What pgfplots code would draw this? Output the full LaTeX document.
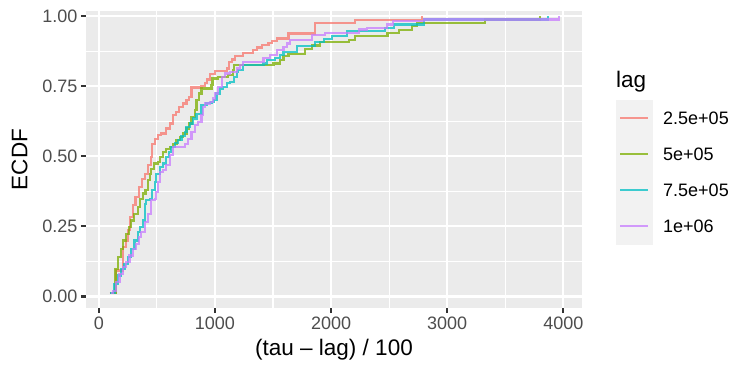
\documentclass[border=0pt]{standalone}
\usepackage{pgfplots}
\pgfplotsset{compat=1.18}
\usepackage{fontspec}
\setmainfont{Liberation Sans}
\definecolor{cA}{HTML}{F8766D}
\definecolor{cB}{HTML}{7CAE00}
\definecolor{cC}{HTML}{00BFC4}
\definecolor{cD}{HTML}{C77CFF}
\definecolor{panelbg}{HTML}{EBEBEB}
\definecolor{keybg}{HTML}{F2F2F2}
\definecolor{tickcol}{HTML}{333333}
\definecolor{ticklab}{HTML}{4D4D4D}
\begin{document}
\begin{tikzpicture}
\useasboundingbox (0bp,0bp) rectangle (735bp,368bp);
\begin{axis}[
  at={(86bp,60bp)}, anchor=south west,
  scale only axis, width=496bp, height=297bp,
  xmin=-110, xmax=4161, ymin=-0.041, ymax=1.018,
  axis background/.style={fill=panelbg},
  axis line style={draw=none},
  xtick={0,1000,2000,3000,4000}, xticklabels={0,1000,2000,3000,4000},
  minor xtick={500,1500,2500,3500},
  ytick={0,0.25,0.5,0.75,1}, yticklabels={0.00,0.25,0.50,0.75,1.00},
  minor ytick={0.125,0.375,0.625,0.875},
  grid=both,
  major grid style={white, line width=2.2bp},
  minor grid style={white, line width=1.1bp},
  tick align=outside, major tick length=5bp, minor tick length=0bp,
  xtick pos=left, ytick pos=left,
  major tick style={tickcol, line width=2.2bp},
  minor tick style={draw=none},
  tick label style={font=\fontsize{18bp}{20bp}\selectfont, text=ticklab},
  xlabel={(tau – lag) / 100},
  ylabel={ECDF},
  label style={font=\fontsize{22.5bp}{24bp}\selectfont, text=black},
  xlabel style={at={(axis description cs:0.5,-0.1414)}, anchor=center},
  ylabel style={at={(axis description cs:-0.134,0.5)}, anchor=center, rotate=0},
  every axis plot/.append style={line width=2.2bp, opacity=0.75, const plot mark left},
]
\addplot[cA] coordinates {
(95,0.012) (150,0.093) (207,0.176) (231,0.2) (251,0.236) (271,0.283) (294,0.325) (317,0.355)
(346,0.39) (375,0.42) (395,0.438) (424,0.468) (447,0.498) (458,0.545) (481,0.563) (510,0.575)
(539,0.581) (582,0.599) (611,0.617) (640,0.646) (663,0.658) (692,0.676) (726,0.688) (755,0.7)
(778,0.712) (798,0.745) (885,0.75) (914,0.76) (934,0.774) (957,0.793) (1000,0.805) (1101,0.813)
(1124,0.837) (1144,0.845) (1173,0.857) (1245,0.867) (1331,0.879) (1360,0.888) (1403,0.896)
(1461,0.905) (1490,0.912) (1533,0.92) (1634,0.938) (1865,0.974) (2204,0.986) (2780,1.0)
};
\addplot[cB] coordinates {
(95,0.012) (144,0.099) (164,0.140) (193,0.170) (207,0.2) (236,0.224) (259,0.248) (280,0.271)
(303,0.295) (337,0.319) (352,0.349) (380,0.367) (403,0.379) (424,0.414) (438,0.438) (452,0.456)
(476,0.474) (510,0.48) (530,0.498) (553,0.515) (576,0.527) (611,0.533) (640,0.545) (669,0.557)
(697,0.569) (726,0.581) (755,0.599) (778,0.617) (798,0.640) (827,0.664) (841,0.7) (865,0.724)
(885,0.742) (971,0.754) (980,0.777) (1029,0.783) (1115,0.789) (1153,0.807) (1164,0.825)
(1504,0.831) (1562,0.843) (1591,0.857) (1634,0.864) (1779,0.883) (1837,0.895) (1908,0.907)
(2152,0.916) (2209,0.928) (2487,0.94) (2582,0.95) (2696,0.964) (2739,0.976) (3327,0.988) (3799,1.0)
};
\addplot[cC] coordinates {
(100,0.012) (135,0.045) (164,0.075) (193,0.099) (222,0.117) (251,0.140) (280,0.170) (308,0.2)
(337,0.230) (352,0.248) (380,0.271) (395,0.331) (409,0.343) (438,0.349) (461,0.379) (481,0.408)
(496,0.438) (524,0.462) (553,0.474) (582,0.498) (605,0.515) (625,0.533) (654,0.548) (683,0.557)
(712,0.571) (741,0.587) (755,0.605) (784,0.617) (813,0.635) (841,0.652) (885,0.682) (928,0.690)
(971,0.694) (991,0.7) (1014,0.724) (1043,0.742) (1072,0.748) (1101,0.76) (1130,0.765)
(1164,0.783) (1187,0.801) (1202,0.807) (1245,0.825) (1418,0.831) (1447,0.843) (1519,0.849)
(1562,0.861) (1591,0.873) (1706,0.893) (1865,0.907) (1937,0.919) (2009,0.928) (2138,0.946)
(2467,0.958) (2539,0.97) (2797,0.988) (3871,1.0)
};
\addplot[cD] coordinates {
(105,0.012) (121,0.021) (150,0.051) (179,0.081) (207,0.105) (236,0.123) (265,0.146) (294,0.170)
(323,0.188) (346,0.212) (366,0.230) (395,0.265) (424,0.295) (452,0.343) (481,0.349) (496,0.373)
(510,0.408) (524,0.444) (553,0.45) (582,0.468) (611,0.504) (640,0.533) (741,0.545) (769,0.563)
(798,0.587) (827,0.611) (856,0.623) (885,0.646) (899,0.676) (914,0.688) (957,0.694) (986,0.706)
(1000,0.724) (1029,0.748) (1058,0.783) (1086,0.795) (1130,0.801) (1187,0.813) (1216,0.825)
(1245,0.837) (1418,0.849) (1476,0.861) (1533,0.879) (1591,0.890) (1620,0.902) (1648,0.914)
(1837,0.931) (1951,0.94) (2238,0.952) (2310,0.958) (2481,0.97) (2533,0.982) (2797,0.988) (3966,1.0)
};
\end{axis}
% legend
\node[anchor=west, inner sep=0pt, font=\fontsize{22.5bp}{24bp}\selectfont] at (616bp,286bp) {lag};
\fill[keybg] (616bp,123bp) rectangle (653bp,268bp);
\foreach \c/\t/\yy in {cA/2.5e+05/250, cB/5e+05/214, cC/7.5e+05/178, cD/1e+06/142}{
  \draw[\c, opacity=0.75, line width=2.2bp] (620bp,\yy bp) -- (648bp,\yy bp);
  \node[anchor=west, inner sep=0pt, font=\fontsize{18bp}{20bp}\selectfont] at (663bp,\yy bp) {\t};
}
\end{tikzpicture}
\end{document}
